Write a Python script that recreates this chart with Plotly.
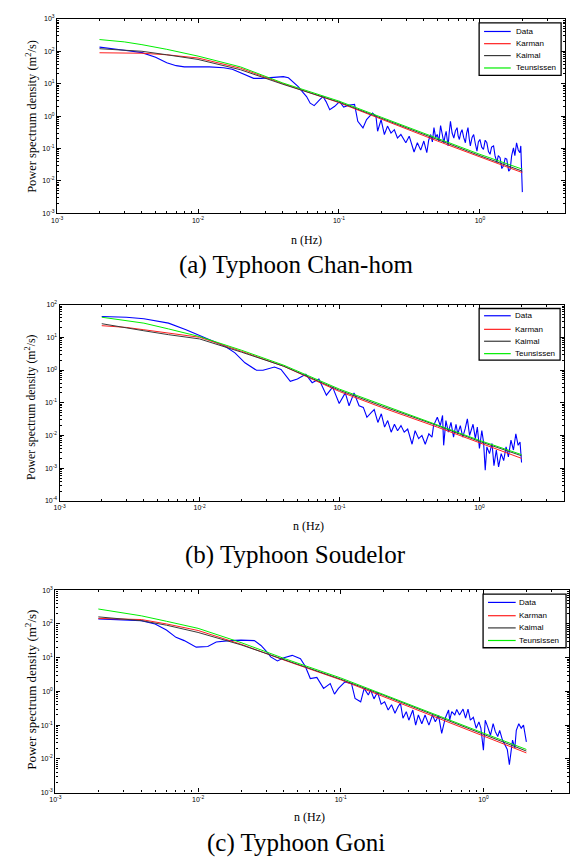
import plotly.graph_objects as go

W, H = 571, 864

# ---------------- data ----------------
series_names = ["Data", "Karman", "Kaimal", "Teunsissen"]
series_colors = ["#0000ff", "#ff2020", "#3a3a3a", "#00ee00"]

# frequencies (Hz) at which the model spectra are tabulated
model_freq = [0.002, 0.003, 0.004, 0.006, 0.01, 0.02, 0.04, 0.1, 0.2, 0.5, 1.0, 2.0]

# (a) Typhoon Chan-hom
karman_a = [90, 89, 87, 78, 62, 30, 10, 2.6, 0.8, 0.17, 0.055, 0.018]
kaimal_a = [120, 110, 100, 78, 56, 27, 9.6, 2.7, 0.86, 0.185, 0.06, 0.02]
teun_a = [230, 195, 160, 115, 71, 33, 10.5, 2.9, 0.92, 0.2, 0.066, 0.023]
freq_a = [0.002, 0.00243, 0.003, 0.004, 0.005, 0.006, 0.007, 0.008, 0.01, 0.012,
          0.0152, 0.0175, 0.0189, 0.022, 0.0248, 0.028, 0.0308, 0.036, 0.0403, 0.0438,
          0.048, 0.0514, 0.0555, 0.0589, 0.0625, 0.0667, 0.0731, 0.077, 0.081, 0.086,
          0.0933, 0.101, 0.108, 0.119, 0.129, 0.136, 0.148, 0.157, 0.169, 0.173,
          0.183, 0.188, 0.199, 0.210, 0.221, 0.234, 0.247, 0.260, 0.275, 0.298,
          0.315, 0.341, 0.36, 0.38, 0.40, 0.41, 0.42, 0.433, 0.447, 0.46,
          0.472, 0.485, 0.498, 0.512, 0.526, 0.54, 0.555, 0.566, 0.576, 0.585,
          0.595, 0.605, 0.618, 0.635, 0.653, 0.67, 0.689, 0.70, 0.715, 0.73,
          0.747, 0.767, 0.789, 0.805, 0.823, 0.84, 0.855, 0.88, 0.903, 0.928,
          0.953, 0.975, 1.0, 1.03, 1.06, 1.09, 1.12, 1.15, 1.18, 1.21,
          1.25, 1.28, 1.32, 1.35, 1.39, 1.43, 1.47, 1.51, 1.55, 1.6,
          1.64, 1.68, 1.73, 1.77, 1.82, 1.87, 1.92, 1.95, 1.98, 2.0]
psd_a = [134, 123, 107, 91, 65, 44, 36, 33, 33, 33,
         31, 28, 24, 18.6, 14.6, 14.6, 15.2, 15.8, 16.5, 15.2,
         10.8, 8.1, 5.4, 4.0, 2.5, 2.1, 3.2, 4.0, 2.8, 1.57,
         2.0, 2.8, 1.9, 2.2, 2.3, 0.69, 0.43, 0.78, 1.1, 1.24,
         0.99, 0.34, 0.78, 0.27, 0.49, 0.30, 0.38, 0.21, 0.27, 0.15,
         0.24, 0.078, 0.15, 0.089, 0.17, 0.10, 0.074, 0.18, 0.27, 0.16,
         0.44, 0.22, 0.27, 0.17, 0.51, 0.28, 0.15, 0.25, 0.34, 0.2,
         0.12, 0.3, 0.69, 0.3, 0.21, 0.35, 0.44, 0.25, 0.19, 0.3,
         0.38, 0.22, 0.15, 0.3, 0.44, 0.2, 0.12, 0.22, 0.27, 0.14,
         0.083, 0.16, 0.19, 0.11, 0.093, 0.18, 0.15, 0.08, 0.066, 0.11,
         0.12, 0.06, 0.037, 0.06, 0.052, 0.024, 0.029, 0.05, 0.047, 0.02,
         0.023, 0.06, 0.105, 0.06, 0.15, 0.09, 0.074, 0.12, 0.029, 0.0045]

# (b) Typhoon Soudelor
karman_b = [22.6, 20, 17, 13.5, 10, 3.7, 1.3, 0.22, 0.072, 0.018, 0.0059, 0.002]
kaimal_b = [26, 20, 15.8, 12, 8.9, 3.5, 1.3, 0.24, 0.08, 0.02, 0.0066, 0.0024]
teun_b = [41, 33, 27, 18, 10.5, 4.0, 1.4, 0.26, 0.087, 0.021, 0.0071, 0.0026]
freq_b = [0.002, 0.003, 0.004, 0.005, 0.006, 0.008, 0.011, 0.0152, 0.0179, 0.0211,
          0.0255, 0.0284, 0.0343, 0.0382, 0.0445, 0.050, 0.0574, 0.0638, 0.0712, 0.0806,
          0.0893, 0.0995, 0.11, 0.117, 0.127, 0.138, 0.148, 0.157, 0.169, 0.177,
          0.188, 0.199, 0.210, 0.221, 0.234, 0.247, 0.26, 0.275, 0.29, 0.307,
          0.33, 0.347, 0.368, 0.388, 0.41, 0.435, 0.458, 0.47, 0.50, 0.525,
          0.545, 0.555, 0.576, 0.60, 0.626, 0.653, 0.68, 0.70, 0.73, 0.76,
          0.79, 0.82, 0.85, 0.90, 0.935, 0.966, 1.0, 1.04, 1.07, 1.10,
          1.13, 1.18, 1.23, 1.27, 1.32, 1.37, 1.43, 1.49, 1.55, 1.61,
          1.68, 1.75, 1.82, 1.89, 1.95, 2.0]
psd_b = [43, 41, 37, 32, 27, 17, 9.5, 5.3, 3.35, 1.66,
         0.98, 0.98, 1.23, 1.04, 0.45, 0.53, 0.74, 0.41, 0.53, 0.17,
         0.30, 0.095, 0.20, 0.081, 0.20, 0.081, 0.072, 0.036, 0.051, 0.062,
         0.025, 0.046, 0.018, 0.0285, 0.0126, 0.022, 0.014, 0.020, 0.0126, 0.0158,
         0.0054, 0.014, 0.008, 0.010, 0.0054, 0.0112, 0.0089, 0.020, 0.036, 0.020,
         0.041, 0.005, 0.0285, 0.0126, 0.025, 0.0089, 0.022, 0.0112, 0.020, 0.0089,
         0.0158, 0.032, 0.010, 0.022, 0.008, 0.018, 0.004, 0.014, 0.0063, 0.00087,
         0.0045, 0.0028, 0.0057, 0.0012, 0.0036, 0.0011, 0.0028, 0.0017, 0.0045, 0.0022,
         0.0072, 0.0036, 0.0112, 0.005, 0.0063, 0.0015]

# (c) Typhoon Goni
karman_c = [146, 142, 135, 100, 64, 25, 8.5, 2.2, 0.7, 0.15, 0.048, 0.015]
kaimal_c = [162, 140, 125, 92, 56, 24, 8.6, 2.3, 0.76, 0.165, 0.053, 0.017]
teun_c = [277, 215, 174, 120, 74, 28, 9.5, 2.5, 0.82, 0.18, 0.058, 0.019]
freq_c = [0.002, 0.003, 0.004, 0.005, 0.006, 0.007, 0.008, 0.0097, 0.0117, 0.0134,
          0.0166, 0.02, 0.0248, 0.0276, 0.0298, 0.0323, 0.036, 0.040, 0.0457, 0.0522,
          0.0565, 0.0612, 0.068, 0.0758, 0.0844, 0.0904, 0.0964, 0.107, 0.119, 0.126,
          0.138, 0.146, 0.156, 0.162, 0.171, 0.181, 0.192, 0.203, 0.215, 0.227,
          0.24, 0.252, 0.262, 0.273, 0.288, 0.30, 0.32, 0.335, 0.35, 0.37,
          0.39, 0.415, 0.44, 0.46, 0.485, 0.51, 0.54, 0.57, 0.58, 0.60,
          0.63, 0.65, 0.68, 0.72, 0.75, 0.78, 0.81, 0.85, 0.89, 0.93,
          0.96, 1.0, 1.03, 1.07, 1.12, 1.17, 1.21, 1.26, 1.3, 1.36,
          1.41, 1.47, 1.52, 1.55, 1.6, 1.66, 1.7, 1.77, 1.84, 1.91,
          1.97, 2.0]
psd_c = [141, 134, 125, 100, 66, 40, 32, 20.5, 21.5, 29,
         32, 33, 32, 23, 16.3, 10.5, 8.0, 10, 11.7, 9.3,
         5.5, 2.4, 2.6, 1.23, 1.7, 0.83, 1.23, 1.9, 1.7, 0.62,
         0.49, 1.23, 0.78, 1.1, 0.6, 0.95, 0.42, 0.49, 0.28, 0.40,
         0.225, 0.35, 0.45, 0.16, 0.25, 0.14, 0.28, 0.10, 0.2, 0.11,
         0.2, 0.10, 0.2, 0.125, 0.19, 0.057, 0.16, 0.28, 0.14, 0.25,
         0.2, 0.29, 0.2, 0.30, 0.16, 0.30, 0.14, 0.17, 0.081, 0.125,
         0.081, 0.018, 0.14, 0.09, 0.05, 0.11, 0.065, 0.046, 0.07, 0.036,
         0.026, 0.019, 0.0067, 0.015, 0.036, 0.021, 0.07, 0.11, 0.081, 0.1,
         0.036, 0.032]

captions = ["(a) Typhoon Chan-hom", "(b) Typhoon Soudelor", "(c) Typhoon Goni"]

# ---------------- layout helpers ----------------
def px_x(px):
    return px / W


def px_y(py):
    return 1 - py / H


SERIF = "Liberation Serif, Times New Roman, serif"
SANS = "Liberation Sans, Arial, sans-serif"


def decade_ticks(lo, hi):
    vals = [10.0 ** e for e in range(lo, hi + 1)]
    text = ["10<sup>%d</sup>" % e for e in range(lo, hi + 1)]
    return vals, text


def minor_ticks(lo, hi, upper):
    out = []
    for e in range(lo, hi + 1):
        for m in range(2, 10):
            v = m * 10.0 ** e
            if v <= upper:
                out.append(v)
    return out


panels = [
    dict(freq=freq_a, psd=psd_a, models=[karman_a, kaimal_a, teun_a],
         box=(51.7, 15, 565.7, 211), ydec=(-3, 3),
         legend=(479, 19, 562, 72), rows=[27.7, 40, 52, 64.5], line=(484, 511), text=514,
         ytitle=(25, 113, 12.4), xtitle=(304, 237.7), cap=263),
    dict(freq=freq_b, psd=psd_b, models=[karman_b, kaimal_b, teun_b],
         box=(54.3, 303, 564.6, 501), ydec=(-4, 2),
         legend=(479, 307, 561, 359), rows=[314.3, 328, 340, 352.5], line=(484, 511), text=513,
         ytitle=(25, 406.5, 11.8), xtitle=(306.5, 526.7), cap=555),
    dict(freq=freq_c, psd=psd_c, models=[karman_c, kaimal_c, teun_c],
         box=(50, 591, 570.3, 795), ydec=(-3, 3),
         legend=(483, 595, 567, 649), rows=[603.3, 616.7, 629, 641.7], line=(488, 516), text=517.5,
         ytitle=(25, 691.7, 13), xtitle=(307.5, 820), cap=846),
]

fig = go.Figure()
layout = dict(width=W, height=H, margin=dict(l=0, r=0, t=0, b=0),
              paper_bgcolor="white", plot_bgcolor="white", showlegend=False)
annotations = []
shapes = []

xvals, xtext = decade_ticks(-3, 0)
xminor = minor_ticks(-3, 0, 4.0)

for i, p in enumerate(panels):
    k = "" if i == 0 else str(i + 1)
    xa, ya = "x" + k, "y" + k
    x0, y0, x1, y1 = p["box"]

    fig.add_trace(go.Scatter(x=p["freq"], y=p["psd"], mode="lines", name=series_names[0],
                             line=dict(color=series_colors[0], width=1.1),
                             xaxis=xa, yaxis=ya))
    for j, model in enumerate(p["models"]):
        fig.add_trace(go.Scatter(x=model_freq, y=model, mode="lines", name=series_names[j + 1],
                                 line=dict(color=series_colors[j + 1], width=1.0),
                                 xaxis=xa, yaxis=ya))

    lo, hi = p["ydec"]
    yvals, ytext = decade_ticks(lo, hi)
    yminor = minor_ticks(lo, hi - 1, 10.0 ** hi)
    common = dict(showgrid=False, zeroline=False, showline=True, linecolor="black",
                  linewidth=1.3, mirror="allticks", ticks="inside", ticklen=4,
                  tickwidth=0.9, tickcolor="black",
                  tickfont=dict(family=SANS, size=7, color="black"),
                  tickmode="array")
    layout["xaxis" + k] = dict(common, type="log", range=[-3, 0.602],
                               domain=[px_x(x0), px_x(x1)], anchor=ya,
                               tickvals=xvals, ticktext=xtext,
                               minor=dict(tickmode="array", tickvals=xminor, ticks="inside",
                                          ticklen=2, tickwidth=0.8, tickcolor="black"))
    layout["yaxis" + k] = dict(common, type="log", range=[lo, hi],
                               domain=[px_y(y1), px_y(y0)], anchor=xa,
                               tickvals=yvals, ticktext=ytext,
                               minor=dict(tickmode="array", tickvals=yminor, ticks="inside",
                                          ticklen=2, tickwidth=0.8, tickcolor="black"))

    # axis titles and caption
    tx, ty, tsize = p["ytitle"]
    annotations.append(dict(text="Power spectrum density (m<sup>2</sup>/s)", textangle=-90,
                            x=px_x(tx), y=px_y(ty), xref="paper", yref="paper",
                            xanchor="center", yanchor="middle", showarrow=False,
                            font=dict(family=SERIF, size=tsize, color="black")))
    annotations.append(dict(text="n (Hz)", x=px_x(p["xtitle"][0]), y=px_y(p["xtitle"][1]),
                            xref="paper", yref="paper", xanchor="center", yanchor="middle",
                            showarrow=False, font=dict(family=SERIF, size=12, color="black")))
    annotations.append(dict(text=captions[i], x=px_x(293.5), y=px_y(p["cap"]),
                            xref="paper", yref="paper", xanchor="center", yanchor="middle",
                            showarrow=False, font=dict(family=SERIF, size=25, color="black")))

    # boxed legend
    lx0, ly0, lx1, ly1 = p["legend"]
    shapes.append(dict(type="rect", xref="paper", yref="paper", layer="above",
                       x0=px_x(lx0), x1=px_x(lx1), y0=px_y(ly1), y1=px_y(ly0),
                       line=dict(color="black", width=1.3), fillcolor="white"))
    for j, row in enumerate(p["rows"]):
        shapes.append(dict(type="line", xref="paper", yref="paper", layer="above",
                           x0=px_x(p["line"][0]), x1=px_x(p["line"][1]),
                           y0=px_y(row), y1=px_y(row),
                           line=dict(color=series_colors[j], width=1.2)))
        annotations.append(dict(text=series_names[j], x=px_x(p["text"]), y=px_y(row),
                                xref="paper", yref="paper", xanchor="left", yanchor="middle",
                                showarrow=False,
                                font=dict(family=SANS, size=8, color="black")))

layout["annotations"] = annotations
layout["shapes"] = shapes
fig.update_layout(**layout)

fig.write_html("out.html")
